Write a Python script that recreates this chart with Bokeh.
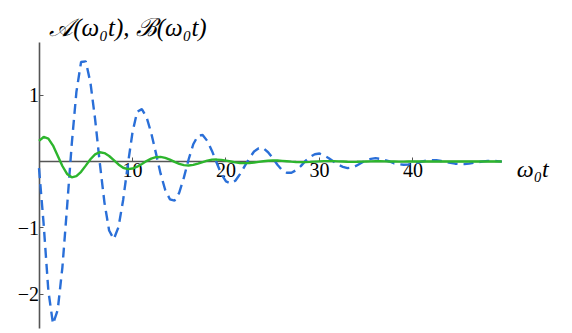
from bokeh.plotting import figure
from bokeh.models import Range1d, FixedTicker, Label
from bokeh.embed import file_html
from bokeh.resources import INLINE

# sample grid in omega_0 t
t = [0.5 * i for i in range(100)]

# dashed blue series
series_b = [
    -0.10, -0.95, -1.95, -2.45, -2.24, -1.60, -0.69, 0.26, 1.05, 1.50,
    1.51, 1.19, 0.64, -0.02, -0.62, -1.04, -1.17, -0.99, -0.58, -0.05,
    0.44, 0.75, 0.79, 0.67, 0.43, 0.13, -0.18, -0.43, -0.57, -0.59,
    -0.47, -0.24, 0.03, 0.26, 0.39, 0.40, 0.31, 0.16, -0.02, -0.19,
    -0.30, -0.33, -0.29, -0.19, -0.07, 0.05, 0.15, 0.20, 0.20, 0.14,
    0.05, -0.05, -0.13, -0.17, -0.17, -0.13, -0.07, 0.01, 0.07, 0.11,
    0.12, 0.09, 0.05, 0.00, -0.05, -0.08, -0.10, -0.09, -0.06, -0.02,
    0.02, 0.04, 0.05, 0.04, 0.02, 0.00, -0.03, -0.04, -0.05, -0.045,
    -0.03, -0.017, 0.0, 0.014, 0.02, 0.018, 0.008, -0.005, -0.02, -0.033,
    -0.039, -0.039, -0.032, -0.021, -0.009, 0.002, 0.009, 0.01, 0.005, -0.002,
]

# solid green series
series_a = [
    0.31, 0.37, 0.344, 0.24, 0.088, -0.068, -0.188, -0.239, -0.22, -0.155,
    -0.062, 0.034, 0.108, 0.14, 0.127, 0.083, 0.02, -0.045, -0.094, -0.115,
    -0.106, -0.079, -0.038, 0.006, 0.044, 0.066, 0.069, 0.054, 0.028, -0.005,
    -0.035, -0.055, -0.06, -0.051, -0.032, -0.008, 0.014, 0.028, 0.029, 0.024,
    0.013, 0.0, -0.013, -0.022, -0.025, -0.022, -0.016, -0.006, 0.004, 0.011,
    0.015, 0.014, 0.01, 0.004, -0.002, -0.007, -0.01, -0.009, -0.006, -0.002,
    0.002, 0.005, 0.006, 0.005, 0.002, -0.001, -0.004, -0.005, -0.004, -0.002,
    0.0, 0.002, 0.003, 0.003, 0.002, 0.0, -0.001, -0.002, -0.002, -0.001,
    0.0, 0.001, 0.001, 0.001, 0.0, -0.001, -0.001, 0.0, 0.0, 0.0,
    0.0, 0.0, 0.0, 0.0, 0.0, 0.0, 0.0, 0.0, 0.0, 0.0,
]

x_ticks = [10, 20, 30, 40]
y_ticks = [-2, -1, 1]
y_tick_labels = {-2: "\u22122", -1: "\u22121", 1: "1"}

title_text = "\U0001D49C(\u03c9\u2080t), \u212C(\u03c9\u2080t)"
xlabel_text = "\u03c9\u2080t"

p = figure(width=572, height=333, output_backend="svg", toolbar_location=None,
           x_range=Range1d(-4.118, 57.06), y_range=Range1d(-2.594, 2.428),
           min_border=0)
p.title.visible = False
p.outline_line_color = None
p.xgrid.visible = False
p.ygrid.visible = False
p.background_fill_color = "white"
p.border_fill_color = "white"

p.line(t, series_b, line_color="#2a6fd8", line_width=2.4, line_dash="10 6")
p.line(t, series_a, line_color="#2db52d", line_width=2.4)

serif = "Liberation Serif"
for ax in p.xaxis:
    ax.fixed_location = 0
    ax.bounds = (0, 49.5)
    ax.ticker = FixedTicker(ticks=x_ticks)
    ax.minor_tick_line_color = None
    ax.major_tick_in = 4
    ax.major_tick_out = 0
    ax.major_label_standoff = 2
    ax.axis_line_color = "#555555"
    ax.axis_line_width = 1.6
    ax.major_tick_line_color = "#555555"
    ax.major_label_text_font = serif
    ax.major_label_text_font_size = "20px"
    ax.major_label_text_color = "black"
    ax.level = "underlay"

for ax in p.yaxis:
    ax.fixed_location = 0
    ax.bounds = (-2.52, 1.795)
    ax.ticker = FixedTicker(ticks=y_ticks)
    ax.major_label_overrides = y_tick_labels
    ax.minor_tick_line_color = None
    ax.major_tick_in = 4
    ax.major_tick_out = 0
    ax.major_label_standoff = 0
    ax.axis_line_color = "#555555"
    ax.axis_line_width = 1.6
    ax.major_tick_line_color = "#555555"
    ax.major_label_text_font = serif
    ax.major_label_text_font_size = "20px"
    ax.major_label_text_color = "black"
    ax.level = "underlay"

p.add_layout(Label(x=1.1, y=2.02, text=title_text, text_font=serif,
                   text_font_style="italic",
                   text_font_size="25px", text_color="black",
                   text_baseline="alphabetic"))
p.add_layout(Label(x=51.1, y=-0.106, text=xlabel_text, text_font=serif,
                   text_font_style="italic", text_font_size="24px",
                   text_color="black", text_baseline="alphabetic"))

open("out.html", "w").write(file_html(p, INLINE))
